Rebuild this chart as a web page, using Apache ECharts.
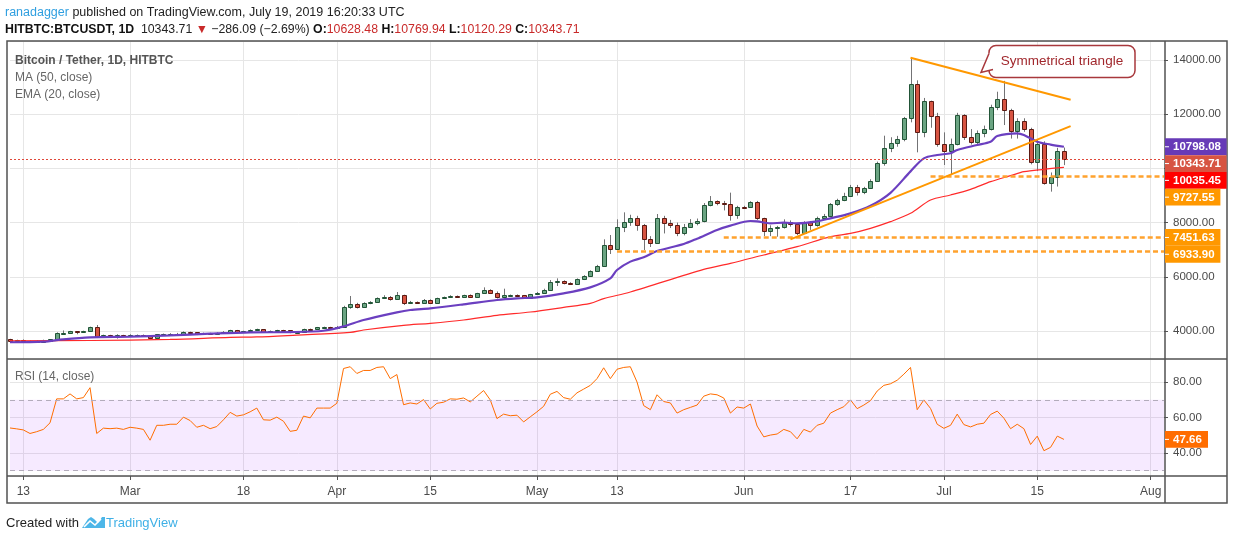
<!DOCTYPE html>
<html><head><meta charset="utf-8">
<script src="https://cdn.jsdelivr.net/npm/echarts@6.0.0/dist/echarts.min.js"></script>
<style>html,body{margin:0;padding:0;background:#fff}#c{width:1234px;height:540px}</style>
</head><body><div id="c"></div>
<script>
// ---------- data ----------
const firstDay = '2019-02-11';
const dayCount = 174; // Feb 11 .. Aug 3 (empty future days on the right)

const opens = [3693,3644,3662,3625,3612,3622,3632,3690,3914,3930,
3988,3950,3995,4135,3766,3840,3828,3840,3835,3845,
3850,3830,3730,3877,3885,3890,3880,3963,3945,3877,
3926,3880,3935,3976,4037,3976,3990,4037,4062,3976,
4005,4037,4020,3951,3970,4074,4060,4135,4145,4140,
4165,4874,4996,4898,5021,5070,5205,5267,5168,5316,
5021,5070,5046,5144,5046,5205,5242,5292,5267,5316,
5267,5390,5513,5415,5242,5316,5325,5320,5230,5353,
5415,5525,5808,5857,5784,5747,5907,6030,6214,6399,
7161,7014,7825,8010,8182,7899,7383,7260,8158,7973,
7924,7629,7850,7973,8047,8637,8785,8736,8674,8293,
8576,8560,8748,8158,7703,7790,7826,8022,7948,7629,
8022,7899,8158,8244,8674,8834,8994,9326,9141,9265,
9535,10187,10740,10925,11072,11847,13102,11355,12487,11946,
10913,10654,10913,11970,11170,10990,11290,11450,12280,12560,
12150,11390,11750,11450,10224,10890,9450,9695,10628.48];

const closes = [3644,3662,3625,3612,3622,3632,3690,3914,3930,3988,
3950,3995,4135,3766,3840,3828,3840,3835,3845,3850,
3830,3730,3877,3885,3890,3880,3963,3945,3877,3926,
3880,3935,3976,4037,3976,3990,4037,4062,3976,4005,
4037,4020,3951,3970,4074,4060,4135,4145,4140,4165,
4874,4996,4898,5021,5070,5205,5267,5168,5316,5021,
5070,5046,5144,5046,5205,5242,5292,5267,5316,5267,
5390,5513,5415,5242,5316,5325,5320,5230,5353,5415,
5525,5808,5857,5784,5747,5907,6030,6214,6399,7161,
7014,7825,8010,8182,7899,7383,7260,8158,7973,7924,
7629,7850,7973,8047,8637,8785,8736,8674,8293,8576,
8560,8748,8158,7703,7790,7826,8022,7948,7629,8022,
7899,8158,8244,8674,8834,8994,9326,9141,9265,9535,
10187,10740,10925,11072,11847,13102,11355,12487,11946,10913,
10654,10913,11970,11170,10990,11290,11450,12280,12560,12150,
11390,11750,11450,10224,10890,9450,9695,10629.8,10343.71];

const highs = [3712,3680,3690,3650,3660,3680,3700,3950,4020,4005,
3995,4010,4160,4222,3865,3860,3880,3860,3880,3870,
3870,3845,3890,3905,3920,3930,3985,3975,3950,3940,
3935,3950,3995,4045,4040,4010,4060,4085,4065,4020,
4045,4045,4030,3985,4085,4090,4150,4160,4155,4185,
4930,5292,5040,5060,5100,5240,5320,5290,5439,5340,
5110,5090,5180,5170,5230,5270,5320,5310,5340,5350,
5410,5611,5540,5460,5562,5345,5350,5330,5370,5440,
5560,5882,5943,5870,5800,5940,6060,6240,6440,7383,
7542,8120,8379,8290,8250,7950,7500,8317,8250,8100,
8000,7950,8130,8150,8720,8980,8820,8800,9105,8620,
8620,8790,8800,8180,7900,7880,8120,8080,7990,8050,
8060,8220,8320,8720,8880,9100,9390,9390,9320,9600,
10250,11207,11150,11200,11900,14086,13250,12600,12500,12050,
11330,11100,12050,12000,11450,11400,11580,12350,12830,13230,
12200,11850,11850,11500,11050,11000,9850,10760,10769.94];

const lows = [3620,3625,3600,3580,3590,3610,3615,3680,3870,3890,
3880,3930,3970,3740,3750,3800,3720,3810,3815,3810,
3800,3710,3710,3850,3860,3860,3870,3920,3850,3860,
3860,3870,3920,3965,3960,3950,3975,4020,3950,3965,
3990,4000,3920,3935,3960,4040,4050,4120,4110,4120,
4150,4820,4830,4880,4990,5060,5180,5120,5150,4960,
5000,5020,5030,5000,5030,5190,5220,5240,5250,5230,
5250,5380,5390,5200,5200,5290,5290,5200,5220,5340,
5400,5510,5660,5720,5700,5730,5880,6010,6180,6380,
6841,7000,7650,7880,7700,6989,7100,7240,7600,7800,
7500,7530,7820,7900,8010,8600,8640,8450,8071,8140,
8500,8550,8100,7500,7500,7480,7780,7850,7540,7580,
7730,7850,8100,8200,8620,8790,8950,9000,9050,9250,
9500,10100,10600,10800,11000,11700,10593,11150,11500,10800,
10125,9770,10850,11050,10880,10850,11150,11400,12150,11600,
11100,11100,11350,10150,9900,9400,9142,9330,10120.29];

const rsi = [54.1,53.6,53,51,52,53.3,57,70.5,70.5,73.3,
70.5,71.2,76.8,51,54,53.7,54,53.3,54.5,54,
53.3,47.2,55.6,55.6,56.2,56.2,60.2,58.3,54.5,55.6,
53.7,54.9,58.7,62.9,60.8,61.5,63.2,65.3,58.7,58.5,
60.2,57.9,52.2,52.8,60.8,59.8,65.3,65.3,65.3,68,
87.6,88.6,84.8,86.5,86.5,88.2,88.6,81.9,84.2,67.2,
68.2,67.6,70.1,64.8,68,68.6,70.5,70.3,71,68.8,
72,75.2,69.9,59.4,61.9,61,61.3,57.5,60.4,63.2,
66.3,73.1,74.7,71.2,70.3,73.9,76,78.1,81.9,88,
81.9,87.2,88.2,88.6,80,66.7,64.4,72.8,69,68.2,
62.5,64.4,65.7,67,72,73.3,72.8,71,62.5,65.9,
65.3,67.6,55.2,49.1,50.1,50.7,53.3,52,48,53.3,
51.8,55.6,56.8,62.5,64.4,66.1,69.9,65,67,69.5,
74.9,78.1,79,81,84.4,88.2,64.4,69.9,65.1,56.2,
53.9,55.6,61.9,56,54.7,56.2,56.8,61.7,63.6,59.6,
53.7,56.2,53.7,44.8,49.5,41.3,43.2,49.5,47.66];

// EMA(20) and MA(50) read at sample days (day index from firstDay)
const emaDay = [0,5,8,12,18,24,30,36,42,47,50,53,58,60,63,68,73,76,79,83,87,90,91,93,95,97,101,103,106,108,111,112,114,116,118,121,123,126,129,132,135,137,139,141,142,145,147,148,151,152,154,156,158];
const emaVal = [3585,3605,3690,3765,3790,3840,3900,3950,3960,4010,4170,4406,4689,4775,4836,4984,5144,5205,5242,5390,5611,5943,6250,6560,6720,6950,7210,7407,7727,7887,8059,8047,7973,7998,7973,8047,8158,8342,8620,9100,9890,10371,10494,10560,10679,10863,10986,11196,11294,11232,10986,10880,10798.08];
const maDay = [0,12,24,33,37,43,51,53,59,63,68,73,78,83,87,89,93,104,108,113,118,123,126,129,132,135,138,141,144,147,150,152,155,158];
const maVal = [3635,3650,3690,3766,3780,3850,3951,4037,4209,4283,4406,4578,4701,4873,5021,5193,5439,6276,6497,6805,7112,7481,7600,7789,8035,8342,8834,9019,9228,9510,9732,9880,9966,10035.45];

const tickDays   = ['2019-02-13','2019-03-01','2019-03-18','2019-04-01','2019-04-15','2019-05-01','2019-05-13','2019-06-01','2019-06-17','2019-07-01','2019-07-15','2019-08-01'];
const tickLabels = ['13','Mar','18','Apr','15','May','13','Jun','17','Jul','15','Aug'];

const levelValues = [9727.55, 7451.63, 6933.90];
const levelStart  = ['2019-06-29', '2019-05-29', '2019-05-13'];
const triUpper = [['2019-06-26', 14080], ['2019-07-20', 12530]];
const triLower = [['2019-06-08', 7380], ['2019-07-20', 11560]];
const lastEma = 10798.08, lastMa = 10035.45, lastRsi = 47.66;

// ---------- build ----------
const days = [];
for (let i = 0; i < dayCount; i++) {
  const d = new Date(Date.parse(firstDay + 'T00:00:00Z') + i * 86400000);
  days.push(d.toISOString().slice(0, 10));
}
const tickSet = new Set(tickDays.map(d => days.indexOf(d)));
const lastIdx = closes.length - 1;
const lastClose = closes[lastIdx];
const prevClose = closes[lastIdx - 1];
const chg = lastClose - prevClose;

const FONT = '"Liberation Sans", Arial, sans-serif';
const candleData = closes.map((c, i) => [i, opens[i], c, lows[i], highs[i]]);
const emaData = emaDay.map((d, k) => [d, emaVal[k]]);
const maData = maDay.map((d, k) => [d, maVal[k]]);

const chart = echarts.init(document.getElementById('c'), null, {renderer: 'canvas'});

const xBase = {
  type: 'category', data: days, boundaryGap: false,
  axisLine: {show: false},
  splitLine: {show: true, interval: (i) => tickSet.has(i), lineStyle: {color: '#e6e6e6', width: 1}}
};

const levelLines = levelValues.map((v, k) => [
  {coord: [levelStart[k], v]}, {coord: [days[dayCount - 1], v]}
]);

chart.setOption({
  animation: false,
  backgroundColor: '#ffffff',
  grid: [
    {left: 10, top: 41, width: 1154, height: 318},
    {left: 10, top: 359, width: 1154, height: 117}
  ],
  xAxis: [
    Object.assign({}, xBase, {gridIndex: 0, axisTick: {show: false}, axisLabel: {show: false}}),
    Object.assign({}, xBase, {
      gridIndex: 1,
      axisTick: {show: true, interval: (i) => tickSet.has(i), length: 4, lineStyle: {color: '#555'}},
      axisLabel: {show: true, interval: (i) => tickSet.has(i), margin: 10, color: '#4a4a4a',
        fontFamily: FONT, fontSize: 12,
        formatter: (v) => tickLabels[tickDays.indexOf(v)] || ''}
    })
  ],
  yAxis: [
    {type: 'value', gridIndex: 0, position: 'right', min: 2967, max: 14701, splitNumber: 5,
     axisLine: {show: false},
     axisTick: {show: true, length: 4, lineStyle: {color: '#555'}},
     axisLabel: {color: '#4a4a4a', fontFamily: FONT, fontSize: 11.5, margin: 9,
       showMinLabel: false, showMaxLabel: false, formatter: (v) => v.toFixed(2)},
     splitLine: {show: true, lineStyle: {color: '#e6e6e6'}}},
    {type: 'value', gridIndex: 1, position: 'right', min: 27.04, max: 92.96, splitNumber: 3,
     axisLine: {show: false},
     axisTick: {show: true, length: 4, lineStyle: {color: '#555'}},
     axisLabel: {color: '#4a4a4a', fontFamily: FONT, fontSize: 11.5, margin: 9,
       showMinLabel: false, showMaxLabel: false, formatter: (v) => v.toFixed(2)},
     splitLine: {show: true, lineStyle: {color: '#e6e6e6'}}}
  ],
  series: [
    {
      type: 'custom', name: 'BTCUSDT', xAxisIndex: 0, yAxisIndex: 0, z: 3, clip: false,
      encode: {x: 0, y: [1, 2, 3, 4]},
      data: candleData,
      renderItem: (params, api) => {
        const i = api.value(0), o = api.value(1), c = api.value(2), l = api.value(3), h = api.value(4);
        const pO = api.coord([i, o]), pC = api.coord([i, c]);
        const yl = api.coord([i, l])[1], yh = api.coord([i, h])[1];
        const x = Math.round(pO[0]) + 0.5;
        const top = Math.round(Math.min(pO[1], pC[1])) + 0.5;
        const bot = Math.round(Math.max(pO[1], pC[1])) + 0.5;
        const up = c >= o;
        return {type: 'group', children: [
          {type: 'line', shape: {x1: x, y1: yh, x2: x, y2: yl}, style: {stroke: '#737375', lineWidth: 1}},
          {type: 'rect', shape: {x: x - 2, y: top, width: 4, height: Math.max(bot - top, 1)},
           style: {fill: up ? '#6ba583' : '#d75442', stroke: up ? '#225437' : '#5b1a13', lineWidth: 1}}
        ]};
      }
    },
    {
      type: 'line', name: 'MA (50, close)', xAxisIndex: 0, yAxisIndex: 0, z: 4,
      data: maData, showSymbol: false, smooth: 0.3,
      lineStyle: {color: '#ff2a2a', width: 1.2},
      markLine: {
        silent: true, symbol: ['none', 'none'], label: {show: false}, animation: false,
        data: [
          {yAxis: lastClose, lineStyle: {color: '#e0483a', type: [2, 2], width: 1}},
          ...levelLines.map(p => [Object.assign({}, p[0], {lineStyle: {color: '#ffa22e', width: 2.5, type: [5, 3]}}), p[1]]),
          [{coord: triUpper[0], lineStyle: {color: '#ff9800', width: 2, type: 'solid'}}, {coord: triUpper[1]}],
          [{coord: triLower[0], lineStyle: {color: '#ff9800', width: 2, type: 'solid'}}, {coord: triLower[1]}]
        ]
      }
    },
    {
      type: 'line', name: 'EMA (20, close)', xAxisIndex: 0, yAxisIndex: 0, z: 4,
      data: emaData, showSymbol: false, smooth: 0.3,
      lineStyle: {color: '#6b3fc0', width: 2.2}
    },
    {
      type: 'line', name: 'RSI (14, close)', xAxisIndex: 1, yAxisIndex: 1, z: 4,
      data: rsi, showSymbol: false,
      lineStyle: {color: '#ff6d00', width: 1},
      markArea: {silent: true, itemStyle: {color: 'rgba(153,21,255,0.09)'}, data: [[{yAxis: 30}, {yAxis: 70}]]},
      markLine: {silent: true, symbol: ['none', 'none'], label: {show: false},
        lineStyle: {color: '#b3acbb', type: [5, 4], width: 1},
        data: [{yAxis: 70}, {yAxis: 30}]}
    }
  ]
});

// ---------- texts, frame and price tags ----------
const g = [];
function txt(x, y, text, fill, font, extra) {
  g.push(Object.assign({type: 'text', x: x, y: y, z: 200,
    style: {text: text, fill: fill, font: font, textVerticalAlign: 'middle', verticalAlign: 'middle'}}, extra || {}));
}
// header
g.push({type: 'text', x: 5, y: 13, z: 200, style: {
  text: '{u|ranadagger}{t| published on TradingView.com, July 19, 2019 16:20:33 UTC}',
  textVerticalAlign: 'middle', verticalAlign: 'middle',
  rich: {u: {fill: '#2f9fe0', color: '#2f9fe0', font: '12.5px ' + FONT},
         t: {fill: '#222', color: '#222', font: '12.5px ' + FONT}}}});
const rc = '#c92a2a';
g.push({type: 'text', x: 5, y: 30, z: 200, style: {
  text: '{b|HITBTC:BTCUSDT, 1D}{n|  ' + lastClose.toFixed(2) + ' }{r|▼}{n| −' + Math.abs(chg).toFixed(2) +
        ' (−' + Math.abs(chg / prevClose * 100).toFixed(2) + '%) }{b|O:}{r|' + opens[lastIdx].toFixed(2) +
        '} {b|H:}{r|' + highs[lastIdx].toFixed(2) + '} {b|L:}{r|' + lows[lastIdx].toFixed(2) +
        '} {b|C:}{r|' + closes[lastIdx].toFixed(2) + '}',
  textVerticalAlign: 'middle', verticalAlign: 'middle',
  rich: {b: {fill: '#111', color: '#111', font: 'bold 12.3px ' + FONT},
         n: {fill: '#222', color: '#222', font: '12.3px ' + FONT},
         r: {fill: rc, color: rc, font: '12.3px ' + FONT}}}});
// legends
txt(15, 61, 'Bitcoin / Tether, 1D, HITBTC', '#555', 'bold 12px ' + FONT);
txt(15, 78, 'MA (50, close)', '#666', '12px ' + FONT);
txt(15, 95, 'EMA (20, close)', '#666', '12px ' + FONT);
txt(15, 377, 'RSI (14, close)', '#666', '12px ' + FONT);
// footer
txt(6, 523, 'Created with', '#222', '13px ' + FONT);
g.push({type: 'polygon', z: 200, shape: {points: [[82, 528], [88, 519], [91, 517], [94, 519], [98, 523], [102, 517], [105, 517], [105, 528]]},
  style: {fill: '#4db6e8'}});
g.push({type: 'polyline', z: 201, shape: {points: [[84, 527], [90, 521], [95, 525], [101, 519]]},
  style: {stroke: '#fff', lineWidth: 1.6, fill: null}});
txt(106, 523, 'TradingView', '#3fb0e6', '13px ' + FONT);

// frame
const fc = '#525252';
g.push({type: 'rect', z: 150, shape: {x: 7, y: 41, width: 1220, height: 462}, style: {fill: null, stroke: fc, lineWidth: 1.5}});
g.push({type: 'line', z: 150, shape: {x1: 1165, y1: 41, x2: 1165, y2: 503}, style: {stroke: fc, lineWidth: 1.5}});
g.push({type: 'line', z: 150, shape: {x1: 7, y1: 359, x2: 1227, y2: 359}, style: {stroke: fc, lineWidth: 1.5}});
g.push({type: 'line', z: 150, shape: {x1: 7, y1: 476, x2: 1227, y2: 476}, style: {stroke: fc, lineWidth: 1.5}});

// callout "Symmetrical triangle"
{
  const L = 989, T = 45.5, R = 1135, B = 77.5, tipX = 981, tipY = 72.5;
  const red = '#a8383c';
  g.push({type: 'rect', z: 210, shape: {x: L, y: T, width: R - L, height: B - T, r: 7},
    style: {fill: 'rgba(255,255,255,0.94)', stroke: red, lineWidth: 1.5}});
  g.push({type: 'polygon', z: 211, shape: {points: [[L - 1, T + 8], [tipX, tipY], [L + 4, B - 8], [L + 2, B - 8], [L + 2, T + 8]]},
    style: {fill: '#ffffff'}});
  g.push({type: 'polyline', z: 212, shape: {points: [[L, T + 8], [tipX, tipY], [L + 4, B - 8]]},
    style: {stroke: red, lineWidth: 1.5, fill: null}});
  g.push({type: 'text', z: 213, x: 1062, y: 61.5, style: {text: 'Symmetrical triangle', fill: '#a1282d',
    font: '13.5px ' + FONT, textAlign: 'center', align: 'center', textVerticalAlign: 'middle', verticalAlign: 'middle'}});
}

// price tags on the right scale (pushed down to avoid overlap)
const tags = [
  {v: lastEma, bg: '#673ab7'},
  {v: lastClose, bg: '#d75442'},
  {v: lastMa, bg: '#ff0000'},
  {v: levelValues[0], bg: '#ff9800'},
  {v: levelValues[1], bg: '#ff9800'},
  {v: levelValues[2], bg: '#ff9800'}
];
let prevBottom = -1e9;
tags.forEach(t => {
  const yTrue = chart.convertToPixel({yAxisIndex: 0}, t.v);
  const yc = Math.max(yTrue, prevBottom + 8.4);
  prevBottom = yc + 8.4;
  const s = t.v.toFixed(2);
  const w = 12 + s.length * 6.2;
  g.push({type: 'rect', z: 220, shape: {x: 1165, y: yc - 8.4, width: w, height: 16.8}, style: {fill: t.bg}});
  g.push({type: 'line', z: 221, shape: {x1: 1165, y1: yc, x2: 1169, y2: yc}, style: {stroke: '#fff', lineWidth: 1}});
  txt(1173, yc + 0.5, s, '#fff', 'bold 11.5px ' + FONT, {z: 222});
});
{
  const yc = chart.convertToPixel({yAxisIndex: 1}, lastRsi);
  const s = lastRsi.toFixed(2);
  g.push({type: 'rect', z: 220, shape: {x: 1165, y: yc - 8.4, width: 12 + s.length * 6.2, height: 16.8}, style: {fill: '#ff6d00'}});
  g.push({type: 'line', z: 221, shape: {x1: 1165, y1: yc, x2: 1169, y2: yc}, style: {stroke: '#fff', lineWidth: 1}});
  txt(1173, yc + 0.5, s, '#fff', 'bold 11.5px ' + FONT, {z: 222});
}

chart.setOption({graphic: {elements: g}});
</script>
</body></html>
